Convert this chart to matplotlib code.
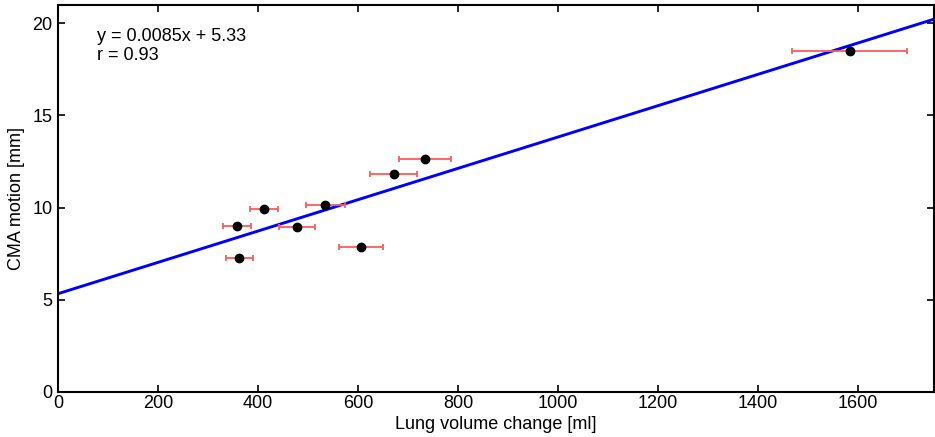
import numpy as np
import matplotlib.pyplot as plt

plt.rcParams["font.family"] = ["Liberation Sans", "DejaVu Sans"]

# Lung volume change [ml] vs CMA motion [mm]
lung_ml = [359, 363, 412, 479, 535, 605, 671, 733, 1583]
cma_mm = [9.02, 7.27, 9.92, 8.95, 10.13, 7.85, 11.83, 12.65, 18.5]
lung_err = [28, 27, 28, 36, 39, 44, 47, 52, 115]

slope, intercept = 0.0085, 5.33

fig = plt.figure(figsize=(9.35, 4.37), dpi=100)
ax = fig.add_axes([0.062, 0.103, 0.937, 0.886])

xs = np.array([0, 1760])
ax.plot(xs, slope * xs + intercept, color="#0000ff", lw=2.1, zorder=2)
ax.errorbar(lung_ml, cma_mm, xerr=lung_err, fmt="none", ecolor="#ff5a5a",
            elinewidth=1.3, capsize=2.5, capthick=1.3, zorder=3)
ax.plot(lung_ml, cma_mm, "o", color="black", ms=6, zorder=4)

ax.text(78, 19.75, "y = 0.0085x + 5.33\nr = 0.93", fontsize=13, va="top",
        linespacing=1.15)

ax.set_xlim(0, 1752)
ax.set_ylim(0, 21)
ax.set_xticks(range(0, 1601, 200))
ax.set_yticks(range(0, 21, 5))
ax.tick_params(direction="in", top=True, right=True, length=5, width=1.2,
               labelsize=13, pad=2)
ax.tick_params(axis="y", pad=4)
for s in ax.spines.values():
    s.set_linewidth(1.5)
ax.set_xlabel("Lung volume change [ml]", fontsize=13, labelpad=3)
ax.set_ylabel("CMA motion [mm]", fontsize=13, labelpad=5)

fig.savefig("out.png", dpi=100)
